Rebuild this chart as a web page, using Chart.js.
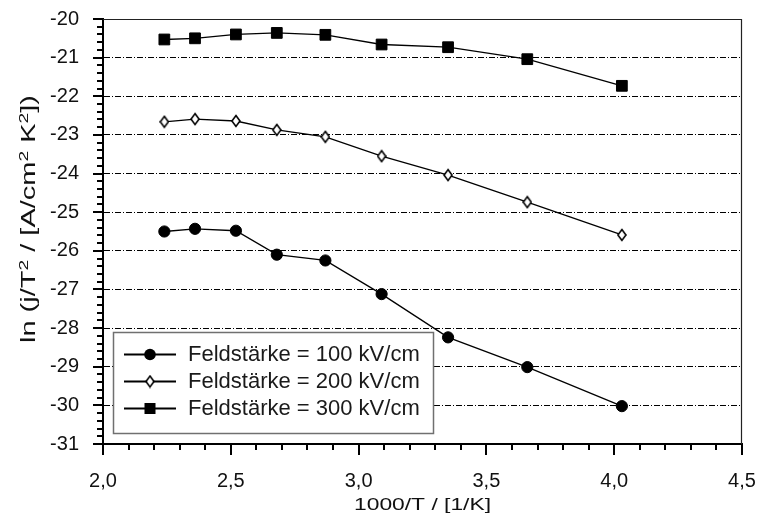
<!DOCTYPE html>
<html>
<head>
<meta charset="utf-8">
<script src="https://cdn.jsdelivr.net/npm/chart.js@4.4.1/dist/chart.umd.min.js"></script>
<style>
  html, body { margin: 0; padding: 0; background: #fff; }
  canvas { display: block; }
</style>
</head>
<body>
<canvas id="chart" width="758" height="525"></canvas>
<script>
// 1000/T in 1/K
const inverseTemperature = [2.24, 2.36, 2.52, 2.68, 2.87, 3.09, 3.35, 3.66, 4.03];
// ln(j/T^2) for each field strength
const lnJ100 = [-25.50, -25.43, -25.48, -26.10, -26.25, -27.12, -28.24, -29.01, -30.02];
const lnJ200 = [-22.66, -22.59, -22.64, -22.87, -23.05, -23.55, -24.04, -24.74, -25.59];
const lnJ300 = [-20.53, -20.50, -20.40, -20.36, -20.41, -20.66, -20.73, -21.04, -21.73];
const seriesLabels = ['Feldstärke = 100 kV/cm', 'Feldstärke = 200 kV/cm', 'Feldstärke = 300 kV/cm'];

const xRange = [2.0, 4.5];
const yRange = [-31, -20];
const xAxisTitle = '1000/T / [1/K]';
// [text, isSuperscript]
const yAxisTitleParts = [['ln (j/T', false], ['2', true], [' / [A/cm', false], ['2', true], [' K', false], ['2', true], ['])', false]];

const FONT = "'Liberation Sans', Arial, Helvetica, sans-serif";

// open narrow diamond marker
function makeDiamond() {
  const c = document.createElement('canvas');
  c.width = 10; c.height = 14;
  const g = c.getContext('2d');
  g.beginPath();
  g.moveTo(5, 1.5); g.lineTo(9, 7); g.lineTo(5, 12.5); g.lineTo(1, 7);
  g.closePath();
  g.fillStyle = '#fff'; g.fill();
  g.lineWidth = 1.6; g.strokeStyle = '#000'; g.stroke();
  return c;
}
const diamond = makeDiamond();

const toPoints = ys => ys.map((y, i) => ({ x: inverseTemperature[i], y }));

const baseSeries = {
  borderColor: '#000',
  borderWidth: 1.3,
  pointBorderColor: '#000',
  pointBorderWidth: 1,
  tension: 0,
  fill: false
};

// draws text runs centred on the origin, stretched to a given length
function drawRuns(ctx, runs, size, supSize, supRise, targetLen) {
  let total = 0;
  const widths = runs.map(([t, sup]) => {
    ctx.font = (sup ? supSize : size) + 'px ' + FONT;
    const w = ctx.measureText(t).width;
    total += w;
    return w;
  });
  ctx.scale(targetLen / total, 1);
  let x = -total / 2;
  runs.forEach(([t, sup], i) => {
    ctx.font = (sup ? supSize : size) + 'px ' + FONT;
    ctx.fillText(t, x, sup ? -supRise : 0);
    x += widths[i];
  });
}

const decorations = {
  id: 'decorations',
  beforeDraw(chart) {
    const { ctx, width, height } = chart;
    ctx.save();
    ctx.fillStyle = '#fff';
    ctx.fillRect(0, 0, width, height);
    ctx.restore();
  },
  afterDraw(chart) {
    const { ctx, chartArea: a, scales: { x, y } } = chart;
    ctx.save();

    // top and right frame
    ctx.strokeStyle = '#222';
    ctx.lineWidth = 1.2;
    ctx.beginPath();
    ctx.moveTo(a.left, a.top + 0.5);
    ctx.lineTo(a.right - 0.5, a.top + 0.5);
    ctx.lineTo(a.right - 0.5, a.bottom);
    ctx.stroke();

    // major and minor tick marks
    ctx.strokeStyle = '#000';
    ctx.lineWidth = 2;
    ctx.beginPath();
    for (let i = 0; i <= 55; i++) {
      const py = Math.round(y.getPixelForValue(yRange[0] + i * 0.2));
      const len = i % 5 === 0 ? 10 : 6;
      ctx.moveTo(a.left - len, py);
      ctx.lineTo(a.left, py);
    }
    for (let i = 0; i <= 25; i++) {
      const px = Math.round(x.getPixelForValue(xRange[0] + i * 0.1));
      const len = i % 5 === 0 ? 11 : 6;
      ctx.moveTo(px, a.bottom);
      ctx.lineTo(px, a.bottom + len);
    }
    ctx.stroke();

    // axis titles
    ctx.fillStyle = '#111';
    ctx.textAlign = 'left';
    ctx.textBaseline = 'alphabetic';
    ctx.save();
    ctx.translate((a.left + a.right) / 2, 510);
    drawRuns(ctx, [[xAxisTitle, false]], 17, 11, 0, 137);
    ctx.restore();
    ctx.save();
    ctx.translate(35, 219);
    ctx.rotate(-Math.PI / 2);
    drawRuns(ctx, yAxisTitleParts, 19.5, 13, 7.5, 248);
    ctx.restore();

    // legend
    const box = { l: 113.5, t: 332.5, r: 433.5, b: 433.5 };
    ctx.fillStyle = '#fff';
    ctx.fillRect(box.l, box.t, box.r - box.l, box.b - box.t);
    ctx.strokeStyle = '#707070';
    ctx.lineWidth = 1.5;
    ctx.strokeRect(box.l, box.t, box.r - box.l, box.b - box.t);
    const rows = [354.5, 381.5, 408.5];
    chart.data.datasets.forEach((ds, i) => {
      const ry = rows[i];
      ctx.strokeStyle = '#000';
      ctx.lineWidth = 2;
      ctx.beginPath();
      ctx.moveTo(124, ry);
      ctx.lineTo(176, ry);
      ctx.stroke();
      ctx.fillStyle = '#000';
      if (ds.pointStyle === 'circle') {
        ctx.beginPath();
        ctx.arc(150, ry, 5.8, 0, Math.PI * 2);
        ctx.fill();
      } else if (ds.pointStyle === 'rect') {
        ctx.fillRect(144.5, ry - 5.5, 11, 11);
      } else {
        ctx.drawImage(diamond, 150 - diamond.width / 2, ry - diamond.height / 2);
      }
      ctx.fillStyle = '#1a1a1a';
      ctx.font = '22px ' + FONT;
      ctx.textBaseline = 'middle';
      ctx.fillText(ds.label, 188, ry);
    });
    ctx.restore();
  }
};

new Chart(document.getElementById('chart'), {
  type: 'line',
  data: {
    datasets: [
      { ...baseSeries, label: seriesLabels[0], data: toPoints(lnJ100),
        pointStyle: 'circle', pointRadius: 5.6, pointBackgroundColor: '#000' },
      { ...baseSeries, label: seriesLabels[1], data: toPoints(lnJ200),
        pointStyle: diamond, pointRadius: 6 },
      { ...baseSeries, label: seriesLabels[2], data: toPoints(lnJ300),
        pointStyle: 'rect', pointRadius: 7.6, pointBackgroundColor: '#000' }
    ]
  },
  options: {
    responsive: false,
    animation: false,
    devicePixelRatio: 1,
    layout: { padding: { top: 19, right: 16, left: 0, bottom: 0 } },
    plugins: { legend: { display: false }, tooltip: { enabled: false } },
    scales: {
      x: {
        type: 'linear',
        min: xRange[0], max: xRange[1],
        afterFit: s => { s.height = 81; s.paddingLeft = 0; s.paddingRight = 0; },
        ticks: {
          stepSize: 0.5,
          padding: 25,
          color: '#111',
          font: { family: FONT, size: 20 },
          callback: v => v.toFixed(1).replace('.', ',')
        },
        grid: { drawOnChartArea: false, drawTicks: false },
        border: { display: true, color: '#000', width: 2 }
      },
      y: {
        type: 'linear',
        min: yRange[0], max: yRange[1],
        afterFit: s => { s.width = 103; s.paddingTop = 0; s.paddingBottom = 0; },
        ticks: {
          stepSize: 1,
          padding: 24,
          color: '#111',
          font: { family: FONT, size: 20 },
          callback: v => String(v)
        },
        grid: {
          drawTicks: false,
          lineWidth: 1,
          color: c => (c.tick && (c.tick.value === yRange[0] || c.tick.value === yRange[1])) ? 'rgba(0,0,0,0)' : '#000'
        },
        border: { display: true, color: '#000', width: 2, dash: [6, 2, 1, 2] }
      }
    }
  },
  plugins: [decorations]
});
</script>
</body>
</html>
